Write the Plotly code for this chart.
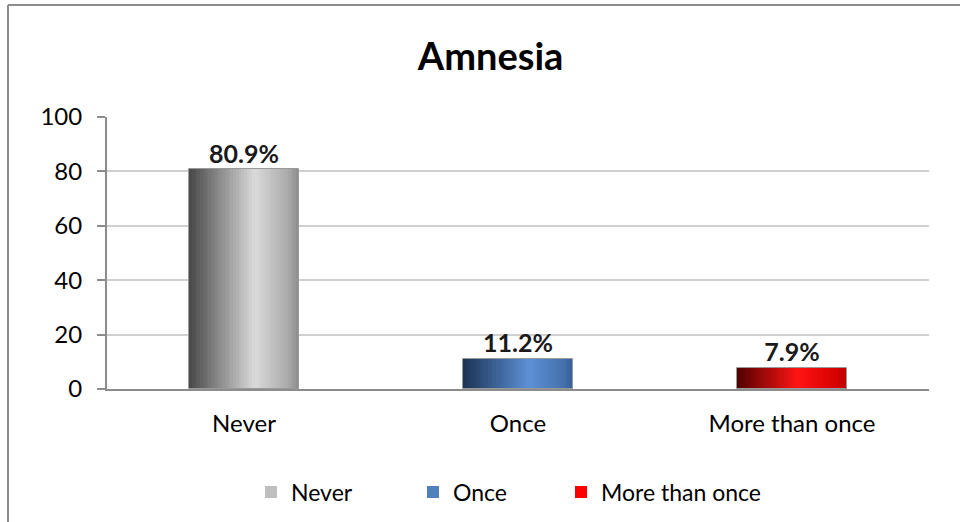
import plotly.graph_objects as go

categories = ["Never", "Once", "More than once"]
values = [80.9, 11.2, 7.9]
labels = ["80.9%", "11.2%", "7.9%"]
legend_colors = ["#bfbfbf", "#4f81bd", "#ff0000"]
y_ticks = [0, 20, 40, 60, 80, 100]

# gradient stops (position, rgb) per category, to imitate the cylinder shading
gradients = [
    [(0.0, (72, 72, 72)), (0.6, (218, 218, 218)), (0.9, (170, 170, 170)), (1.0, (140, 140, 140))],
    [(0.0, (28, 50, 84)), (0.6, (92, 145, 214)), (0.9, (70, 115, 175)), (1.0, (55, 95, 150))],
    [(0.0, (80, 0, 0)), (0.55, (255, 20, 20)), (0.9, (215, 0, 0)), (1.0, (190, 0, 0))],
]


def interp(stops, t):
    for (p0, c0), (p1, c1) in zip(stops, stops[1:]):
        if p0 <= t <= p1:
            f = (t - p0) / (p1 - p0) if p1 > p0 else 0
            return "rgb(%d,%d,%d)" % tuple(round(a + (b - a) * f) for a, b in zip(c0, c1))
    return "rgb(%d,%d,%d)" % stops[-1][1]


BAR_W = 0.4
N = 40
sw = BAR_W / N
FONT = "Lato"

fig = go.Figure()
for i in range(N):
    t = (i + 0.5) / N
    fig.add_trace(go.Bar(
        x=categories, y=values,
        width=sw * 1.15, offset=-BAR_W / 2 + i * sw,
        marker=dict(color=[interp(g, t) for g in gradients], line=dict(width=0)),
        showlegend=False, hoverinfo="skip",
    ))

# outline
fig.add_trace(go.Bar(
    x=categories, y=values, width=BAR_W, offset=-BAR_W / 2,
    marker=dict(color="rgba(0,0,0,0)", line=dict(color="#9a9a9a", width=1)),
    showlegend=False, hoverinfo="skip",
))

# legend entries, each in its own legend so spacing can match the original
legend_ids = ["legend", "legend2", "legend3"]
for c, col, lid in zip(categories, legend_colors, legend_ids):
    fig.add_trace(go.Bar(x=[c], y=[0], width=0.001, name=c, legend=lid,
                         marker=dict(color=col, line=dict(width=0)),
                         hoverinfo="skip"))

# data labels
fig.add_trace(go.Scatter(
    x=categories, y=values, mode="text", text=labels,
    textposition="top center",
    textfont=dict(family=FONT, size=25, color="#1a1a1a", weight="bold"),
    showlegend=False, hoverinfo="skip",
))

legend_px = [251, 413, 561]
leg_y = (389 - 492) / 272
legends = {}
for lid, px in zip(legend_ids, legend_px):
    legends[lid] = dict(orientation="h", x=(px - 107) / 822, xanchor="left",
                        y=leg_y, yanchor="middle", font=dict(size=23),
                        itemwidth=30, itemclick=False, bgcolor="rgba(0,0,0,0)")

fig.update_layout(
    width=960, height=522,
    margin=dict(l=107, r=31, t=117, b=133, autoexpand=False),
    paper_bgcolor="white", plot_bgcolor="white",
    barmode="overlay", bargap=0,
    font=dict(family=FONT, size=23, color="#000000"),
    title=dict(text="<b>Amnesia</b>", x=0.511, xanchor="center",
               y=1 - 57 / 522, yanchor="middle",
               font=dict(family=FONT, size=38, color="#000000")),
    xaxis=dict(showline=True, linecolor="#8c8c8c", linewidth=2,
               ticks="", ticklabelstandoff=12, showgrid=False,
               tickfont=dict(size=24)),
    yaxis=dict(range=[0, 100], tickvals=y_ticks, showline=True,
               linecolor="#8c8c8c", linewidth=2, ticks="outside",
               ticklen=8, tickcolor="#8c8c8c", tickwidth=2,
               ticklabelstandoff=10,
               showgrid=True, gridcolor="#d0d0d0", gridwidth=2,
               zeroline=False, tickfont=dict(size=24)),
    shapes=[
        dict(type="line", xref="paper", yref="paper",
             x0=(8 - 107) / 822, x1=(970 - 107) / 822,
             y0=(389 - 5) / 272, y1=(389 - 5) / 272,
             line=dict(color="#8c8c8c", width=2)),
        dict(type="line", xref="paper", yref="paper",
             x0=(8 - 107) / 822, x1=(8 - 107) / 822,
             y0=(389 - 5) / 272, y1=(389 - 530) / 272,
             line=dict(color="#8c8c8c", width=2)),
    ],
    **legends,
)

fig.write_html("out.html", config={"displayModeBar": False},
               post_script="document.body.style.margin='0';")
